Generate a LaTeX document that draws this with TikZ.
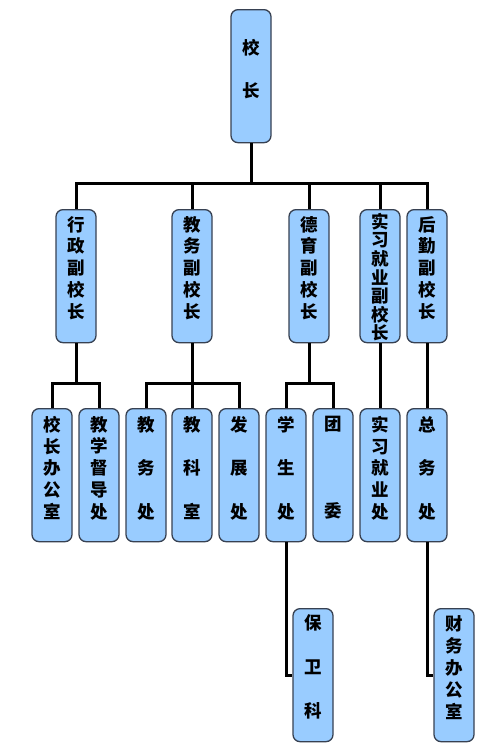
\documentclass[tikz,border=0pt]{standalone}
\usepackage{fontspec}
\newfontfamily\cjk{Noto Sans CJK SC}
\definecolor{boxfill}{RGB}{153,204,255}
\definecolor{boxline}{RGB}{55,65,82}
\newcommand\vtxt[3]{\parbox[c][133pt][t]{40pt}{\centering\vspace*{\dimexpr#1pt-7.6pt\relax}\fontsize{17.5pt}{#2pt}\selectfont\cjk\bfseries #3\par}}
\tikzset{
  orgbox/.style={draw=boxline, fill=boxfill, line width=1.3pt, rounded corners=7pt,
    inner sep=0pt, minimum width=40pt, minimum height=133pt, anchor=north},
  link/.style={line width=3pt, black}
}
\begin{document}
\begin{tikzpicture}[x=1pt,y=-1pt]
\useasboundingbox (0,0) rectangle (500,750);
\fill[white] (0,0) rectangle (500,750);
\coordinate (bus) at (251,183);
\coordinate (busA) at (76,383);
\coordinate (busB) at (192,383);
\coordinate (busC) at (309,383);
% nodes
\node[orgbox] (top) at (251,9) {\vtxt{37}{43}{校\\长}};
\node[orgbox] (vA) at (76,209) {\vtxt{14}{21.75}{行\\政\\副\\校\\长}};
\node[orgbox] (vB) at (192,209) {\vtxt{14}{21.75}{教\\务\\副\\校\\长}};
\node[orgbox] (vC) at (309,209) {\vtxt{14}{21.75}{德\\育\\副\\校\\长}};
\node[orgbox] (vD) at (380,209) {\vtxt{11}{18.6}{实\\习\\就\\业\\副\\校\\长}};
\node[orgbox] (vE) at (427,209) {\vtxt{14}{21.75}{后\\勤\\副\\校\\长}};
\node[orgbox] (d1) at (52,408) {\vtxt{15}{21.75}{校\\长\\办\\公\\室}};
\node[orgbox] (d2) at (99,408) {\vtxt{15}{21.75}{教\\学\\督\\导\\处}};
\node[orgbox] (d3) at (146,408) {\vtxt{15}{43.5}{教\\务\\处}};
\node[orgbox] (d4) at (192,408) {\vtxt{15}{43.5}{教\\科\\室}};
\node[orgbox] (d5) at (239,408) {\vtxt{15}{43.5}{发\\展\\处}};
\node[orgbox] (d6) at (286,408) {\vtxt{15}{43.5}{学\\生\\处}};
\node[orgbox] (d7) at (333,408) {\vtxt{15}{87}{团\\委}};
\node[orgbox] (d8) at (380,408) {\vtxt{15}{21.75}{实\\习\\就\\业\\处}};
\node[orgbox] (d9) at (427,408) {\vtxt{15}{43.5}{总\\务\\处}};
\node[orgbox] (e1) at (313,608) {\vtxt{14}{44}{保\\卫\\科}};
\node[orgbox] (e2) at (454,608) {\vtxt{14}{22}{财\\务\\办\\公\\室}};
% links
\draw[link] (top.south) -- (bus);
\foreach \n in {vA,vB,vC,vD,vE} \draw[link] (bus) -| (\n.north);
\draw[link] (vA.south) -- (busA);
\foreach \n in {d1,d2} \draw[link] (busA) -| (\n.north);
\draw[link] (vB.south) -- (busB);
\foreach \n in {d3,d4,d5} \draw[link] (busB) -| (\n.north);
\draw[link] (vC.south) -- (busC);
\foreach \n in {d6,d7} \draw[link] (busC) -| (\n.north);
\draw[link] (vD.south) -- (d8.north);
\draw[link] (vE.south) -- (d9.north);
\draw[link] (d6.south) |- (e1.west);
\draw[link] (d9.south) |- (e2.west);
\end{tikzpicture}
\end{document}
